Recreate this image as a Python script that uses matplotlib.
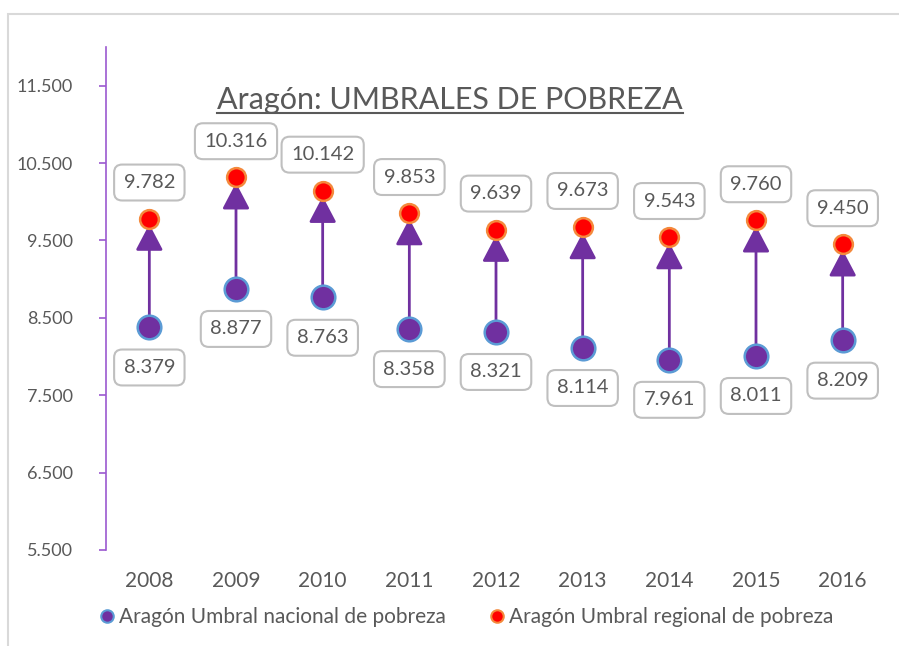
import matplotlib
matplotlib.use("Agg")
import matplotlib.pyplot as plt
from matplotlib.lines import Line2D
from matplotlib.patches import Rectangle

# data
years = ['2008', '2009', '2010', '2011', '2012', '2013', '2014', '2015', '2016']
nacional = [8379, 8877, 8763, 8358, 8321, 8114, 7961, 8011, 8209]
regional = [9782, 10316, 10142, 9853, 9639, 9673, 9543, 9760, 9450]
yticks = [5500, 6500, 7500, 8500, 9500, 10500, 11500]

purple = '#7030A0'
axis_purple = '#9B59D0'
grey_txt = '#595959'

plt.rcParams['font.family'] = ['Lato', 'DejaVu Sans']

def fmt(v):
    # thousands with a dot, spanish style
    return '{:,}'.format(v).replace(',', '.')

fig = plt.figure(figsize=(8.99, 6.46), dpi=100)
ax = fig.add_axes([106/899, 1-550/646, 780/899, 503/646])

# light frame of the chart area
fig.patches.append(Rectangle((8/899, -0.05), 1.2, 1-14/646+0.05, transform=fig.transFigure,
                             fill=False, edgecolor='#d9d9d9', lw=1.5))

x = list(range(len(years)))

# arrows from national to regional threshold
for i in x:
    ax.annotate('', xy=(i, regional[i]), xytext=(i, nacional[i]),
                arrowprops=dict(arrowstyle='-|>,head_length=0.8,head_width=0.42',
                                color=purple, lw=2, shrinkA=0, shrinkB=4,
                                mutation_scale=20), zorder=2)

ax.plot(x, nacional, 'o', ms=17, mfc=purple, mec='#5B9BD5', mew=1.8, ls='none', zorder=3)
ax.plot(x, regional, 'o', ms=13.5, mfc='#FF0000', mec='#F4893C', mew=1.8, ls='none', zorder=4)

box = dict(boxstyle='round,pad=0.47,rounding_size=0.4', fc='white', ec='#bfbfbf', lw=1.5)
for i in x:
    ax.annotate(fmt(regional[i]), (i, regional[i]), xytext=(0, 26), textcoords='offset points',
                ha='center', va='center', fontsize=14.5, color=grey_txt, bbox=box, zorder=5)
    ax.annotate(fmt(nacional[i]), (i, nacional[i]), xytext=(0, -29), textcoords='offset points',
                ha='center', va='center', fontsize=14.5, color=grey_txt, bbox=box, zorder=5)

ax.set_xlim(-0.5, len(years) - 0.5)
ax.set_ylim(5500, 12000)
ax.set_xticks(x)
ax.set_xticklabels(years)
ax.set_yticks(yticks)
ax.set_yticklabels([fmt(v) for v in yticks])

for s in ['top', 'right', 'bottom']:
    ax.spines[s].set_visible(False)
ax.spines['left'].set_color(axis_purple)
ax.spines['left'].set_linewidth(1.2)
ax.tick_params(axis='y', colors=axis_purple, labelcolor=grey_txt, length=5, width=1.2,
               labelsize=13, pad=19)
ax.tick_params(axis='x', length=0, labelcolor=grey_txt, labelsize=15, pad=15)

# title with underline
t = fig.text(450/899, 1-100/646, 'Aragón: UMBRALES DE POBREZA', ha='center', va='center',
             fontsize=22, color=grey_txt)
fig.canvas.draw()
bb = t.get_window_extent().transformed(fig.transFigure.inverted())
fig.add_artist(Line2D([bb.x0, bb.x1], [bb.y0 + 0.002, bb.y0 + 0.002], transform=fig.transFigure,
                      color=grey_txt, lw=1.5))

handles = [Line2D([], [], marker='o', ls='none', ms=9, mfc=purple, mec='#5B9BD5', mew=1.5),
           Line2D([], [], marker='o', ls='none', ms=9, mfc='#FF0000', mec='#F4893C', mew=1.5)]
fig.legend(handles, ['Aragón Umbral nacional de pobreza', 'Aragón Umbral regional de pobreza'],
           loc='center', bbox_to_anchor=(465/899, 1-617/646), ncol=2, frameon=False,
           fontsize=15, handletextpad=0.1, columnspacing=1.95, labelcolor=grey_txt, handlelength=1)

fig.savefig('out.png', dpi=100)
